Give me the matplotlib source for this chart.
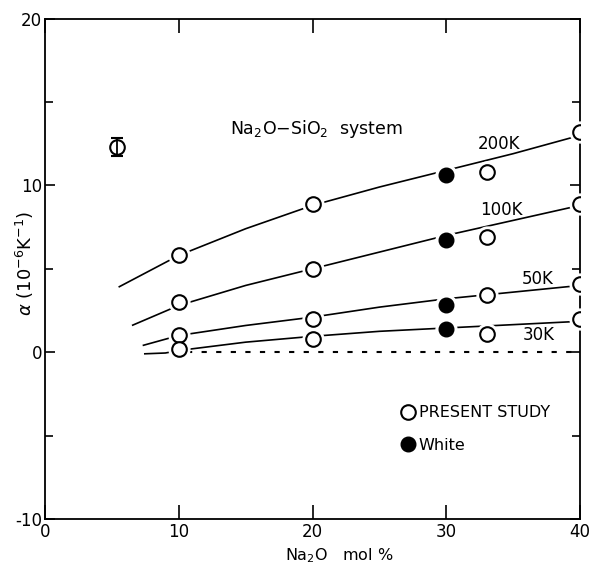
import matplotlib
matplotlib.use("Agg")
import matplotlib.pyplot as plt
from matplotlib.lines import Line2D
import numpy as np

plt.rcParams['font.family'] = ['DejaVu Sans']
plt.rcParams['axes.unicode_minus'] = False

# Present study (open circles)
present_x = [10, 20, 33, 40]
present_200K = [5.8, 8.9, 10.8, 13.2]
present_100K = [3.0, 5.0, 6.9, 8.9]
present_50K = [1.0, 2.0, 3.4, 4.1]
present_30K = [0.2, 0.8, 1.1, 2.0]

# White (filled circles)
white_x = [30, 30, 30, 30]
white_y = [10.6, 6.7, 2.8, 1.4]

# Fitted curves
curve_200K_x = [5.5, 10, 15, 20, 25, 30, 35, 40]
curve_200K_y = [3.9, 5.8, 7.4, 8.8, 9.9, 10.9, 11.9, 13.0]
curve_100K_x = [6.5, 10, 15, 20, 25, 30, 35, 40]
curve_100K_y = [1.6, 2.8, 4.0, 5.0, 6.0, 7.0, 7.9, 8.8]
curve_50K_x = [7.3, 10, 15, 20, 25, 30, 35, 40]
curve_50K_y = [0.4, 1.0, 1.6, 2.1, 2.7, 3.2, 3.6, 4.0]
curve_30K_x = [7.4, 9, 10, 15, 20, 25, 30, 35, 40]
curve_30K_y = [-0.1, -0.05, 0.1, 0.6, 0.95, 1.25, 1.45, 1.65, 1.85]

curve_labels = ["200K", "100K", "50K", "30K"]
label_x = [33.9, 34.1, 36.8, 36.9]
label_y = [12.5, 8.5, 4.4, 1.0]

# Error bar sample point
err_x = [5.4]
err_y = [12.3]
err_size = [0.55]

zero_x = [10.6, 40]
zero_y = [0, 0]

fig = plt.figure(figsize=(5.92, 5.70), dpi=100)
ax = fig.add_axes([0.076, 0.0895, 0.904, 0.878])

lw = 1.2
for cx, cy in [(curve_200K_x, curve_200K_y), (curve_100K_x, curve_100K_y),
               (curve_50K_x, curve_50K_y), (curve_30K_x, curve_30K_y)]:
    ax.plot(cx, cy, color='black', lw=lw, zorder=2, solid_capstyle='butt')

ax.plot(zero_x, zero_y, color='black', lw=1.5, linestyle=(0, (2.5, 4.5)), zorder=2)

all_open = [present_200K, present_100K, present_50K, present_30K]
# gaps around markers
for ys in all_open:
    ax.plot(present_x, ys, linestyle='none', marker='o', markersize=15,
            markerfacecolor='white', markeredgecolor='white', zorder=3)
ax.plot(white_x, white_y, linestyle='none', marker='o', markersize=15,
        markerfacecolor='white', markeredgecolor='white', zorder=3)

for ys in all_open:
    ax.plot(present_x, ys, linestyle='none', marker='o', markersize=10.5,
            markerfacecolor='white', markeredgecolor='black', markeredgewidth=1.5, zorder=4)
ax.plot(white_x, white_y, linestyle='none', marker='o', markersize=10.5,
        markerfacecolor='black', markeredgecolor='black', zorder=4)

ax.errorbar(err_x, err_y, yerr=err_size, fmt='o', markersize=10.5,
            markerfacecolor='none', markeredgecolor='black', markeredgewidth=1.5,
            ecolor='black', elinewidth=1.3, capsize=4, capthick=1.3, zorder=4)

for t, x, y in zip(curve_labels, label_x, label_y):
    ax.text(x, y, t, fontsize=12, ha='center', va='center')

ax.text(13.8, 13.4, r'Na$_2$O$-$SiO$_2$  system', fontsize=12.5, ha='left', va='center')

ax.set_xlim(0, 40)
ax.set_ylim(-10, 20)
ax.set_xticks([0, 10, 20, 30, 40])
ax.set_yticks([-10, 0, 10, 20])
ax.set_yticks([-5, 5, 15], minor=True)
ax.tick_params(axis='x', which='major', direction='in', length=10, width=1.2,
               top=True, bottom=True, labelsize=12, pad=3)
ax.tick_params(axis='y', which='major', direction='in', length=7, width=1.2,
               left=True, right=True, labelsize=12, pad=2)
ax.tick_params(axis='y', which='minor', direction='in', length=6, width=1.2,
               left=True, right=True)
for s in ax.spines.values():
    s.set_linewidth(1.3)

ax.set_xlabel(r'Na$_2$O   mol %', fontsize=11.5)
ax.xaxis.set_label_coords(0.55, -0.055)
ax.set_ylabel(r'$\alpha$ (10$^{-6}$K$^{-1}$)', fontsize=13)
ax.yaxis.set_label_coords(-0.016, 0.51)

handles = [Line2D([], [], linestyle='none', marker='o', markersize=10.5,
                  markerfacecolor='white', markeredgecolor='black', markeredgewidth=1.5),
           Line2D([], [], linestyle='none', marker='o', markersize=10.5,
                  markerfacecolor='black', markeredgecolor='black')]
ax.legend(handles, ['PRESENT STUDY', 'White'], frameon=False, fontsize=11.5,
          loc='upper left', bbox_to_anchor=(0.648, 0.24), handletextpad=0.1,
          labelspacing=1.1, handlelength=1.2, borderaxespad=0)

fig.savefig('out.png', dpi=100)
